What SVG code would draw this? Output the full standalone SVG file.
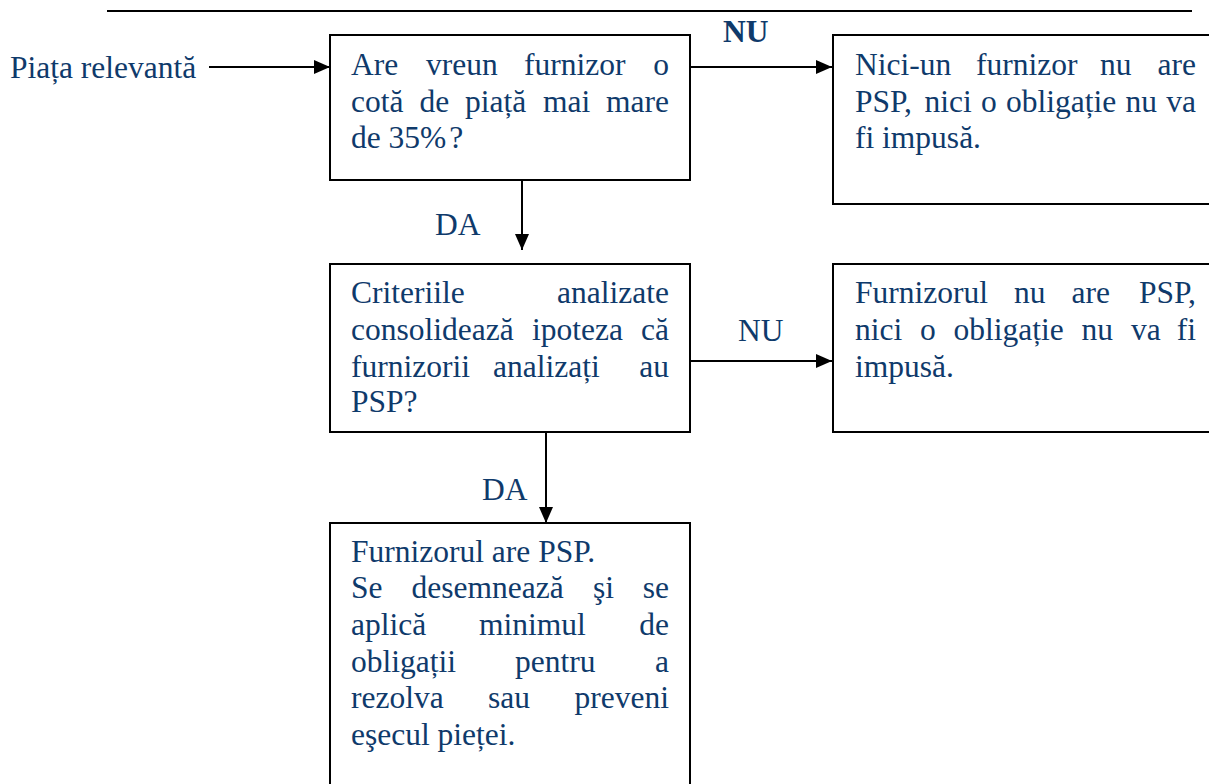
<svg xmlns="http://www.w3.org/2000/svg" width="1209" height="784" viewBox="0 0 1209 784">
<style>
.t{font-family:"Liberation Serif","Times New Roman",serif;font-size:31.5px;fill:#0F3A6B}
.b{font-weight:bold}
.box{fill:#fff;stroke:#000;stroke-width:2}
.c{stroke:#000;stroke-width:2;fill:none}
</style>
<defs>
<marker id="ah" viewBox="0 0 16 14" refX="16" refY="7" markerWidth="16" markerHeight="14" markerUnits="userSpaceOnUse" orient="auto">
<path d="M0,0 L16,7 L0,14 z" fill="#000"/>
</marker>
</defs>
<rect width="1209" height="784" fill="#fff"/>
<line x1="107" y1="11" x2="1192" y2="11" stroke="#000" stroke-width="2"/>

<g id="start"><text class="t" x="10" y="78">Piața relevantă</text></g>

<g id="connectors">
<line class="c" x1="209" y1="67" x2="330" y2="67" marker-end="url(#ah)"/>
<line class="c" x1="690" y1="67" x2="832" y2="67" marker-end="url(#ah)"/>
<line class="c" x1="522" y1="180" x2="522" y2="250" marker-end="url(#ah)"/>
<line class="c" x1="690" y1="361" x2="832" y2="361" marker-end="url(#ah)"/>
<line class="c" x1="546" y1="432" x2="546" y2="523" marker-end="url(#ah)"/>
<text class="t b" x="723" y="42">NU</text>
<text class="t" x="435" y="235">DA</text>
<text class="t" x="738" y="341">NU</text>
<text class="t" x="482" y="500">DA</text>
</g>

<g id="q1">
<rect class="box" x="330" y="35" width="360" height="145"/>
<text class="t" y="75"><tspan x="351">Are</tspan><tspan x="426">vreun</tspan><tspan x="524">furnizor</tspan><tspan x="669" text-anchor="end">o</tspan></text>
<text class="t" y="112"><tspan x="351">cotă</tspan><tspan x="419.5">de</tspan><tspan x="465">piață</tspan><tspan x="543">mai</tspan><tspan x="669" text-anchor="end">mare</tspan></text>
<text class="t" x="351" y="148">de 35%<tspan dx="3">?</tspan></text>
</g>

<g id="no1">
<rect class="box" x="833" y="35" width="380" height="169"/>
<text class="t" y="75"><tspan x="855">Nici-un</tspan><tspan x="976">furnizor</tspan><tspan x="1100">nu</tspan><tspan x="1196" text-anchor="end">are</tspan></text>
<text class="t" y="112"><tspan x="855">PSP,</tspan><tspan x="924.5">nici</tspan><tspan x="981">o</tspan><tspan x="1006">obligație</tspan><tspan x="1125.5">nu</tspan><tspan x="1196" text-anchor="end">va</tspan></text>
<text class="t" x="855" y="148">fi impusă.</text>
</g>

<g id="q2">
<rect class="box" x="330" y="264" width="360" height="168"/>
<text class="t" y="303"><tspan x="351">Criteriile</tspan><tspan x="669" text-anchor="end">analizate</tspan></text>
<text class="t" y="340"><tspan x="351">consolidează</tspan><tspan x="532">ipoteza</tspan><tspan x="669" text-anchor="end">că</tspan></text>
<text class="t" y="377"><tspan x="351">furnizorii</tspan><tspan x="493">analizați</tspan><tspan x="669" text-anchor="end">au</tspan></text>
<text class="t" x="351" y="412">PSP?</text>
</g>

<g id="no2">
<rect class="box" x="833" y="264" width="380" height="168"/>
<text class="t" y="303"><tspan x="855">Furnizorul</tspan><tspan x="1014">nu</tspan><tspan x="1071.5">are</tspan><tspan x="1196" text-anchor="end">PSP,</tspan></text>
<text class="t" y="340"><tspan x="855">nici</tspan><tspan x="920">o</tspan><tspan x="953.5">obligație</tspan><tspan x="1081.5">nu</tspan><tspan x="1131">va</tspan><tspan x="1196" text-anchor="end">fi</tspan></text>
<text class="t" x="855" y="377">impusă.</text>
</g>

<g id="yes">
<rect class="box" x="330" y="523" width="360" height="270"/>
<text class="t" x="351" y="562">Furnizorul are PSP.</text>
<text class="t" y="598"><tspan x="351">Se</tspan><tspan x="411.5">desemnează</tspan><tspan x="593">şi</tspan><tspan x="669" text-anchor="end">se</tspan></text>
<text class="t" y="635"><tspan x="351">aplică</tspan><tspan x="479">minimul</tspan><tspan x="669" text-anchor="end">de</tspan></text>
<text class="t" y="672"><tspan x="351">obligații</tspan><tspan x="515">pentru</tspan><tspan x="669" text-anchor="end">a</tspan></text>
<text class="t" y="708"><tspan x="351">rezolva</tspan><tspan x="488">sau</tspan><tspan x="669" text-anchor="end">preveni</tspan></text>
<text class="t" x="351" y="745">eşecul pieței.</text>
</g>
</svg>
